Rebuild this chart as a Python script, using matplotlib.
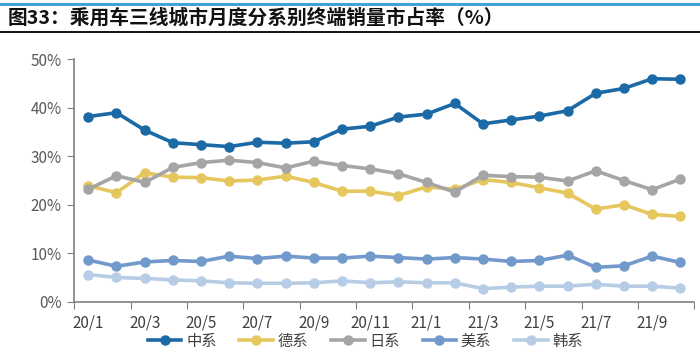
import numpy as np
import matplotlib
matplotlib.use("Agg")
import matplotlib.pyplot as plt
from matplotlib.lines import Line2D

plt.rcParams['font.family'] = ['Noto Sans CJK SC', 'DejaVu Sans']

months = ['20/1', '20/2', '20/3', '20/4', '20/5', '20/6', '20/7', '20/8', '20/9', '20/10', '20/11',
          '20/12', '21/1', '21/2', '21/3', '21/4', '21/5', '21/6', '21/7', '21/8', '21/9', '21/10']

zhong = [38.2, 39.0, 35.4, 32.8, 32.4, 32.0, 32.9, 32.7, 33.0, 35.6, 36.2,
         38.1, 38.7, 40.9, 36.7, 37.5, 38.3, 39.4, 43.0, 44.0, 46.0, 45.9]
de = [23.9, 22.5, 26.6, 25.7, 25.6, 24.9, 25.1, 25.9, 24.6, 22.8, 22.8,
      21.9, 23.7, 23.2, 25.2, 24.6, 23.5, 22.4, 19.1, 20.0, 18.0, 17.6]
ri = [23.2, 26.0, 24.6, 27.7, 28.7, 29.2, 28.7, 27.6, 29.0, 28.1, 27.4,
      26.4, 24.6, 22.6, 26.1, 25.8, 25.7, 24.9, 27.0, 25.0, 23.1, 25.3]
mei = [8.6, 7.3, 8.2, 8.5, 8.3, 9.4, 8.9, 9.4, 9.0, 9.0, 9.4,
       9.1, 8.8, 9.1, 8.8, 8.3, 8.5, 9.6, 7.1, 7.4, 9.4, 8.1]
han = [5.6, 5.0, 4.8, 4.5, 4.3, 3.9, 3.8, 3.8, 3.9, 4.3, 3.9,
       4.1, 3.9, 3.9, 2.7, 3.0, 3.2, 3.2, 3.6, 3.2, 3.2, 2.8]

series = [('中系', zhong, '#1B6AA5'),
          ('德系', de, '#E6C75E'),
          ('日系', ri, '#A5A5A5'),
          ('美系', mei, '#7199CB'),
          ('韩系', han, '#B7CDE6')]

fig = plt.figure(figsize=(7, 3.62), dpi=100)
ax = fig.add_axes([0.106, 0.1666, 0.886, 0.6694])

x = np.arange(len(months))
for name, vals, c in series:
    ax.plot(x, vals, color=c, lw=2.6, marker='o', ms=6.5, label=name)

ax.set_xlim(-0.5, len(months) - 0.5)
ax.set_ylim(0, 50)
ax.set_yticks(np.arange(0, 51, 10))
ax.set_yticklabels([f'{v}%' for v in range(0, 51, 10)])

# tick marks at category boundaries, labels every second month
ax.set_xticks(np.arange(-0.5, len(months), 2))
ax.set_xticklabels([])
ax.set_xticks(x[::2], minor=True)
ax.set_xticklabels(months[::2], minor=True)
ax.tick_params(axis='x', which='major', length=5, color='#808080', direction='out')
ax.tick_params(axis='x', which='minor', length=0, pad=9, labelsize=11, labelcolor='#404040')
ax.tick_params(axis='y', length=5, color='#808080', labelsize=11, labelcolor='#595959', pad=4)

for s in ['top', 'right']:
    ax.spines[s].set_visible(False)
for s in ['left', 'bottom']:
    ax.spines[s].set_color('#808080')
    ax.spines[s].set_linewidth(1.2)

handles = [Line2D([0], [0], color=c, lw=2.6, marker='o', ms=6.5) for _, _, c in series]
fig.legend(handles, [s[0] for s in series], loc='center', bbox_to_anchor=(0.522, 0.058),
           ncol=5, frameon=False, fontsize=11, handlelength=2.2, columnspacing=1.5,
           handletextpad=0.3, labelcolor='#404040')

# title band
fig.add_artist(Line2D([0, 1], [0.99, 0.99], color='#3A9AD9', lw=2, transform=fig.transFigure))
fig.add_artist(Line2D([0, 1], [0.912, 0.912], color='#000000', lw=1.3, transform=fig.transFigure))
fig.text(0.011, 0.951, '图33：乘用车三线城市月度分系别终端销量市占率（%）', fontsize=14.2,
         fontweight='bold', va='center', ha='left', color='#111111')

fig.savefig('out.png', dpi=100)
